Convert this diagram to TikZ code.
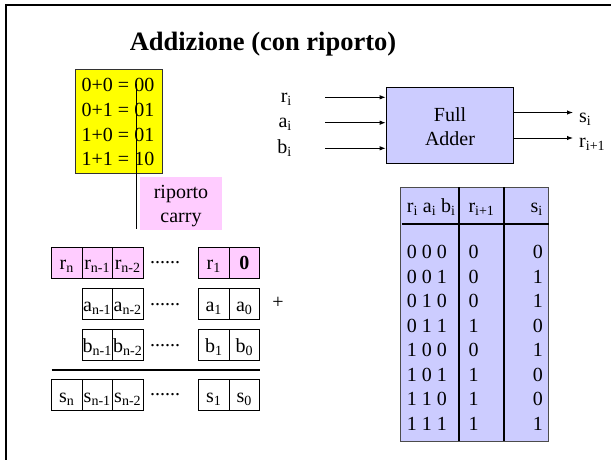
\documentclass[tikz,border=0pt]{standalone}
\usepackage{fontspec}
\setmainfont{Liberation Serif}
\usetikzlibrary{arrows.meta}
\definecolor{pinkc}{HTML}{FFCCFF}
\definecolor{bluec}{HTML}{CCCCFF}
\definecolor{yellowc}{HTML}{FFFF00}
\newcommand{\sbs}[1]{\textsubscript{#1}}
\begin{document}
\begin{tikzpicture}[x=1pt,y=-1pt,
  bodytext/.style={font=\fontsize{20}{24}\selectfont, inner sep=0pt},
  cell/.style={bodytext, draw, line width=0.8pt, minimum width=30.5pt, minimum height=31pt, text height=15pt, text depth=1pt},
  pinkcell/.style={cell, fill=pinkc},
  dotrow/.style={bodytext, anchor=base},
  thickline/.style={line width=2pt},
  arr/.style={line width=1pt, -{Latex[length=6pt,width=4.5pt]}},
  ]
\useasboundingbox (0,0) rectangle (611,459);
% frame
\draw[line width=2.5pt] (6,460) -- (6,5) -- (612,5);
% title
\node[font=\bfseries\fontsize{26.5}{30}\selectfont, anchor=base, inner sep=0pt] (title) at (263,50) {Addizione (con riporto)};
% yellow sums
\node[draw=black!80, fill=yellowc, line width=0.8pt, minimum width=87pt, minimum height=104pt, inner sep=0pt] (sumbox) at (118.5,121) {};
\node[bodytext, anchor=base west] (s1) at (81.5,91.7) {0+0 = 00};
\node[bodytext, anchor=base west] (s2) at (81.5,116.4) {0+1 = 01};
\node[bodytext, anchor=base west] (s3) at (81.5,141.1) {1+0 = 01};
\node[bodytext, anchor=base west] (s4) at (81.5,165.8) {1+1 = 10};
\node[fill=pinkc, minimum width=82pt, minimum height=53pt, inner sep=0pt] (carrybox) at (181,203.5) {};
\node[bodytext, anchor=base] (rip) at (181,198.5) {riporto};
\node[bodytext, anchor=base] (car) at (181,222.5) {carry};
\coordinate (ltop) at (136,84);
\coordinate (lbot) at (136,229);
\draw[line width=1pt] (ltop) -- (lbot);
% full adder
\node[draw, fill=bluec, line width=1pt, minimum width=127pt, minimum height=76pt, inner sep=0pt] (fa) at (449.7,125.3) {};
\node[bodytext, anchor=base] (fa1) at (450,121.5) {Full};
\node[bodytext, anchor=base] (fa2) at (450,145) {Adder};
\coordinate (inr) at (325,97.3);
\coordinate (ina) at (325,122.7);
\coordinate (inb) at (325,148.3);
\draw[arr] (inr) -- (inr -| fa.west);
\draw[arr] (ina) -- (ina -| fa.west);
\draw[arr] (inb) -- (inb -| fa.west);
\coordinate (outs) at (573,112.5);
\coordinate (outr) at (573,138);
\draw[arr] (outs -| fa.east) -- (outs);
\draw[arr] (outr -| fa.east) -- (outr);
\node[bodytext, anchor=base east] (lri) at (292,102) {r\sbs{i}};
\node[bodytext, anchor=base east] (lai) at (292,127.5) {a\sbs{i}};
\node[bodytext, anchor=base east] (lbi) at (292,153) {b\sbs{i}};
\node[bodytext, anchor=base west] (lsi) at (579,122) {s\sbs{i}};
\node[bodytext, anchor=base west] (lri1) at (579,147.5) {r\sbs{i+1}};
% registers
\node[pinkcell] (rn) at (66.7,262.8) {r\sbs{n}};
\node[pinkcell] (rn1) at (97.2,262.8) {r\sbs{n-1}};
\node[pinkcell] (rn2) at (127.7,262.8) {r\sbs{n-2}};
\node[pinkcell] (r1) at (213.8,262.8) {r\sbs{1}};
\node[pinkcell] (r0) at (244.3,262.8) {\textbf{0}};
\node[dotrow] (d1) at (165,263.8) {......};
\node[cell] (an1) at (97.2,304.2) {a\sbs{n-1}};
\node[cell] (an2) at (127.7,304.2) {a\sbs{n-2}};
\node[cell] (a1) at (213.8,304.2) {a\sbs{1}};
\node[cell] (a0) at (244.3,304.2) {a\sbs{0}};
\node[dotrow] (d2) at (165,305.2) {......};
\node[bodytext] (plus) at (278,303) {+};
\node[cell] (bn1) at (97.2,345) {b\sbs{n-1}};
\node[cell] (bn2) at (127.7,345) {b\sbs{n-2}};
\node[cell] (b1) at (213.8,345) {b\sbs{1}};
\node[cell] (b0) at (244.3,345) {b\sbs{0}};
\node[dotrow] (d3) at (165,346) {......};
\coordinate (sepL) at (51.7,370);
\coordinate (sepR) at (260,370);
\draw[thickline] (sepL) -- (sepR);
\node[cell] (sn) at (66.7,395.3) {s\sbs{n}};
\node[cell] (sn1) at (97.2,395.3) {s\sbs{n-1}};
\node[cell] (sn2) at (127.7,395.3) {s\sbs{n-2}};
\node[cell] (s1c) at (213.8,395.3) {s\sbs{1}};
\node[cell] (s0c) at (244.3,395.3) {s\sbs{0}};
\node[dotrow] (d4) at (165,395.3) {......};
% truth table
\node[draw=black!70, fill=bluec, line width=0.8pt, minimum width=147.6pt, minimum height=253.7pt, inner sep=0pt] (tab) at (474.5,314.2) {};
\coordinate (v1) at (459,187.3);
\coordinate (v2) at (504.3,187.3);
\coordinate (hl) at (401.5,224.3);
\draw[thickline] (v1) -- (v1 |- tab.south);
\draw[thickline] (v2) -- (v2 |- tab.south);
\draw[thickline] (hl) -- (hl -| tab.east);
\node[bodytext, anchor=base west] (h1) at (406.7,212) {r\sbs{i} a\sbs{i} b\sbs{i}};
\node[bodytext, anchor=base west] (h2) at (468.3,212) {r\sbs{i+1}};
\node[bodytext, anchor=base east] (h3) at (543,212) {s\sbs{i}};
\foreach \a/\b/\c [count=\k from 0] in {0 0 0/0/0, 0 0 1/0/1, 0 1 0/0/1, 0 1 1/1/0, 1 0 0/0/1, 1 0 1/1/0, 1 1 0/1/0, 1 1 1/1/1} {
  \node[bodytext, anchor=base west] (ta\k) at (406.7,258.8+24.5*\k) {\a};
  \node[bodytext, anchor=base west] (tb\k) at (468.3,258.8+24.5*\k) {\b};
  \node[bodytext, anchor=base east] (tc\k) at (543,258.8+24.5*\k) {\c};
}
\end{tikzpicture}
\end{document}
